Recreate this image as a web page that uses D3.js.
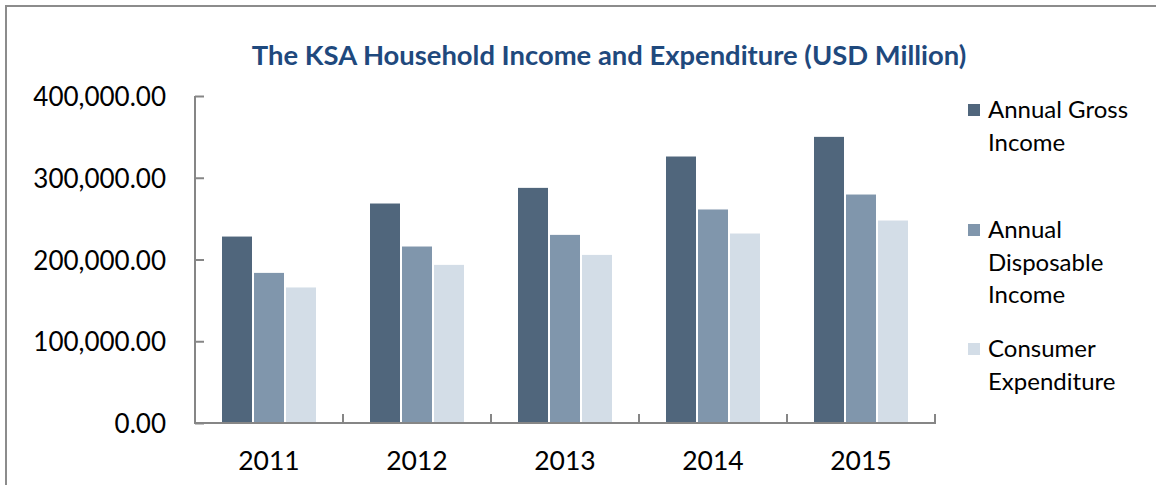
<!DOCTYPE html>
<meta charset="utf-8">
<title>KSA Household Income</title>
<head>
    <script src="https://d3js.org/d3.v7.min.js"></script>
</head>
<body style="margin: 0px; background: #fff">
<script>

    var years = ["2011", "2012", "2013", "2014", "2015"]
    var seriesNames = ["Annual Gross Income", "Annual Disposable Income", "Consumer Expenditure"]
    var grossIncome = [228700, 269100, 288300, 326600, 350700]
    var disposableIncome = [184300, 216500, 230800, 261800, 280100]
    var consumerExpenditure = [166400, 194100, 206300, 232400, 248300]
    var yTicks = [0, 100000, 200000, 300000, 400000]
    var legendLines = [["Annual Gross", "Income"], ["Annual", "Disposable", "Income"], ["Consumer", "Expenditure"]]
    var colors = ["#50667c", "#8096ac", "#d3dde7"]

    var width = 1156,
            height = 485,
            font = "Lato, 'Open Sans', sans-serif";

    var svg = d3.select("body").append("svg")
            .attr("width", width)
            .attr("height", height)
            .style("display", "block")

    // outer frame (runs off the right/bottom of the picture)
    svg.append("rect")
            .attr("x", 6).attr("y", 6)
            .attr("width", 1300).attr("height", 600)
            .attr("fill", "none")
            .attr("stroke", "#8c8c8c")
            .attr("stroke-width", 2)

    svg.append("text")
            .attr("x", 609).attr("y", 65)
            .attr("text-anchor", "middle")
            .style("font-family", font)
            .style("font-weight", "bold")
            .style("font-size", "27.4px")
            .attr("fill", "#1f497d")
            .text("The KSA Household Income and Expenditure (USD Million)")

    var x0 = d3.scaleBand().domain(years).range([195, 935]).paddingInner(0).paddingOuter(0)
    var x1 = d3.scaleBand().domain(d3.range(3)).range([26, 148 - 26])
    var y = d3.scaleLinear().domain([0, 400000]).range([423, 96])

    var table = years.map(function (yr, i) {
        return {year: yr, values: [grossIncome[i], disposableIncome[i], consumerExpenditure[i]]}
    })

    var groups = svg.selectAll("g.year").data(table).enter().append("g")
            .attr("class", "year")
            .attr("transform", function (d) { return "translate(" + x0(d.year) + ",0)" })

    groups.selectAll("rect").data(function (d) { return d.values }).enter().append("rect")
            .attr("x", function (d, i) { return x1(i) + 0.5 })
            .attr("width", x1.bandwidth() - 1)
            .attr("y", function (d) { return y(d) })
            .attr("height", function (d) { return y(0) - y(d) })
            .attr("fill", function (d, i) { return colors[i] })
            .attr("stroke", "#fff")
            .attr("stroke-width", 1)

    // y axis: ticks pointing into the plot
    var yAxis = svg.append("g")
            .attr("transform", "translate(195,0)")
            .call(d3.axisRight(y).tickValues(yTicks).tickSize(9).tickFormat(""))
    yAxis.select(".domain").remove()
    yAxis.append("line").attr("x1", 0).attr("x2", 0).attr("y1", 96).attr("y2", 423)
    yAxis.selectAll("line").attr("stroke", "#868686").attr("stroke-width", 2)

    svg.append("g").selectAll("text").data(yTicks).enter().append("text")
            .attr("x", 166)
            .attr("y", function (d) { return y(d) + 10 })
            .attr("text-anchor", "end")
            .style("font-family", font)
            .style("font-size", "26px")
            .attr("fill", "#000")
            .text(function (d) { return d3.format(",.2f")(d) })

    // x axis: ticks at category boundaries, pointing up
    var xBounds = years.map(function (yr) { return x0(yr) + x0.bandwidth() })
    var xAxis = svg.append("g")
    xAxis.append("line").attr("x1", 194).attr("x2", 936).attr("y1", 423).attr("y2", 423)
    xAxis.selectAll("line.tk").data(xBounds).enter().append("line")
            .attr("class", "tk")
            .attr("x1", function (d) { return d }).attr("x2", function (d) { return d })
            .attr("y1", 423).attr("y2", 414)
    xAxis.selectAll("line").attr("stroke", "#868686").attr("stroke-width", 2)

    svg.append("g").selectAll("text").data(years).enter().append("text")
            .attr("x", function (d) { return x0(d) + x0.bandwidth() / 2 })
            .attr("y", 470)
            .attr("text-anchor", "middle")
            .style("font-family", font)
            .style("font-size", "26.5px")
            .attr("fill", "#000")
            .text(function (d) { return d })

    // legend
    var legendTop = [104, 224, 343]
    var legend = svg.append("g").selectAll("g").data(seriesNames).enter().append("g")
            .attr("transform", function (d, i) { return "translate(968," + legendTop[i] + ")" })
    legend.append("rect")
            .attr("width", 12).attr("height", 12)
            .attr("fill", function (d, i) { return colors[i] })
    legend.each(function (d, i) {
        d3.select(this).selectAll("text").data(legendLines[i]).enter().append("text")
                .attr("x", 20)
                .attr("y", function (t, j) { return 14 + j * 32.5 })
                .style("font-family", font)
                .style("font-size", "24px")
                .attr("fill", "#000")
                .text(function (t) { return t })
    })

</script>
